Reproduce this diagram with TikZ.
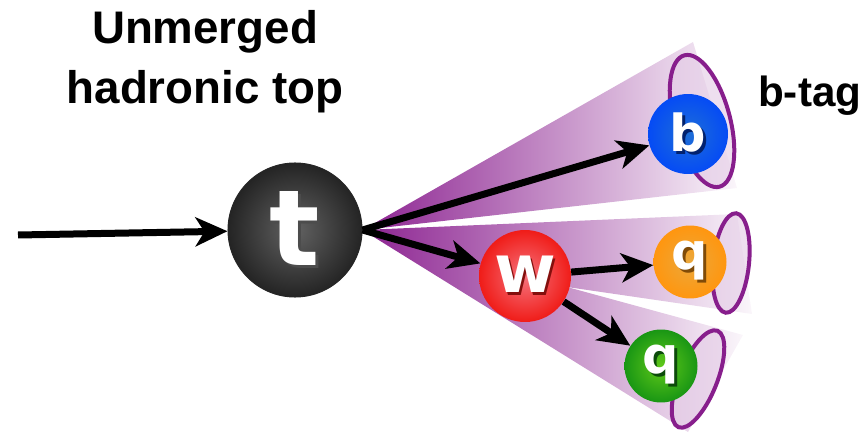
\documentclass[tikz,border=0pt]{standalone}
\usepackage{fontspec}
\setmainfont{Liberation Sans}
\newfontfamily\ballfont{DejaVu Sans}
\usetikzlibrary{arrows.meta,backgrounds}
\definecolor{conepurple}{RGB}{140,35,145}
\definecolor{ringpurple}{RGB}{135,30,140}
\definecolor{topout}{RGB}{36,36,36}
\definecolor{topin}{RGB}{98,98,98}
\definecolor{wout}{RGB}{240,28,24}
\definecolor{win}{RGB}{245,115,125}
\definecolor{bout}{RGB}{5,75,245}
\definecolor{bin}{RGB}{30,110,215}
\definecolor{qorout}{RGB}{255,150,15}
\definecolor{qorin}{RGB}{235,168,60}
\definecolor{qvertout}{RGB}{25,150,20}
\definecolor{qvertin}{RGB}{95,200,25}

% white letter with a dark drop shadow
\newcommand\ballletter[2]{\makebox[0pt][l]{\kern1.5pt\raisebox{-1.5pt}{\textcolor{#1}{#2}}}#2}

\tikzset{
  ball/.style={
    circle, inner sep=0pt, text=white
  },
  topball/.style={
    ball, minimum size=2.68cm, inner color=topin, outer color=topout,
    draw=black!85, line width=0.6pt,
    font=\ballfont\bfseries\fontsize{60}{60}\selectfont
  },
  wball/.style={
    ball, minimum size=1.84cm, inner color=win, outer color=wout,
    font=\ballfont\bfseries\fontsize{38}{38}\selectfont
  },
  bball/.style={
    ball, minimum size=1.6cm, inner color=bin, outer color=bout,
    font=\ballfont\bfseries\fontsize{29}{29}\selectfont
  },
  qball/.style={
    ball, minimum size=1.46cm,
    font=\ballfont\bfseries\fontsize{29}{29}\selectfont
  },
  decay/.style={-{Stealth[length=0.64cm,width=0.58cm,inset=0.18cm]},
    line width=0.14cm, black},
  jetcone/.style={left color=conepurple, right color=conepurple!4},
  jetring/.style={draw=ringpurple, line width=0.08cm,
    fill=conepurple!24, fill opacity=0.6},
  titletext/.style={font=\bfseries\fontsize{26}{34}\selectfont, align=center}
}

\begin{document}
\begin{tikzpicture}[x=0.02cm, y=0.02cm]
  \useasboundingbox (0,0) rectangle (864,433);

  % particles
  \coordinate (in) at (18,198);
  \node[topball] (t) at (295,203) {\ballletter{black!70}{t}};
  \node[wball] (w) at (525,157) {\ballletter{wout!55!black}{w}};
  \node[bball] (b) at (688,299) {\ballletter{bout!45!black}{b}};
  \node[qball, inner color=qorin, outer color=qorout] (q1) at (690,171)
    {\ballletter{qorout!50!black}{q}};
  \node[qball, inner color=qvertin, outer color=qvertout] (q2) at (661,67)
    {\ballletter{qvertout!50!black}{q}};

  \node[titletext] (title) at (205,371) {Unmerged\\hadronic top};
  \node[titletext, font=\bfseries\fontsize{24}{28}\selectfont, anchor=base west]
    (btag) at (752,326) {b-tag};

  % jets
  \begin{scope}[on background layer]
    \shade[jetcone] (t.east) -- (693,391) -- (737,245) -- cycle;
    \shade[jetcone] (t.east) -- (737,219) -- (752,119) -- (567,146) -- cycle;
    \shade[jetcone] (t.east) -- (567,146) -- (743,98) -- (688,1) -- cycle;
    \draw[jetring, rotate around={15:(702,312)}] (702,312) ellipse [x radius=28, y radius=68];
    \draw[jetring, rotate around={-6:(731,170)}] (731,170) ellipse [x radius=18, y radius=50];
    \draw[jetring, rotate around={-22:(698,54)}] (698,54) ellipse [x radius=19, y radius=52];
  \end{scope}

  \draw[decay] (in) -- (t);
  \draw[decay] (t.east) -- (b);
  \draw[decay] (t.east) -- (w);
  \draw[decay] (w) -- (q1);
  \draw[decay] (w) -- (q2);
\end{tikzpicture}
\end{document}
